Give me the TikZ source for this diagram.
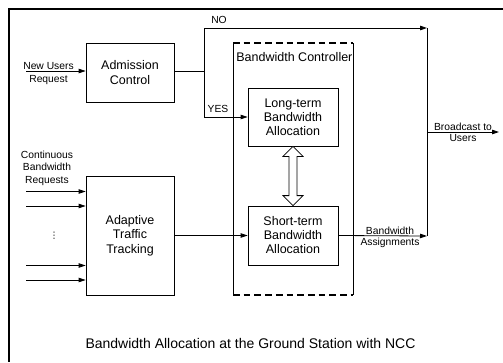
\documentclass[tikz,border=0pt]{standalone}
\usepackage{fontspec}
\setmainfont{Liberation Sans}
\newfontfamily\symfont{DejaVu Sans}
\usetikzlibrary{arrows.meta,calc}
\begin{document}
\begin{tikzpicture}[x=1pt,y=-1pt,
  line width=0.8pt,
  box/.style={draw,line width=0.8pt,align=center,inner sep=0pt,
    font=\fontsize{12.5}{14.5}\selectfont},
  small/.style={align=center,inner sep=0pt,font=\fontsize{10.3}{11.5}\selectfont},
  arr/.style={-{Triangle[length=7pt,width=4.5pt]}},
  hollow/.style={draw,fill=white,line width=0.8pt,line join=miter}]
\useasboundingbox (0,0) rectangle (503,362);
% outer frame (top and left)
\draw[line width=2pt] (503,9) -- (9,9) -- (9,362);
% boxes
\node[box,minimum width=88pt,minimum height=59pt] (adm) at (130,72.5) {Admission\\Control};
\node[box,minimum width=88pt,minimum height=119pt,font=\fontsize{12.5}{14.7}\selectfont] (att) at (130,235.5) {Adaptive\\Traffic\\Tracking};
\node[box,minimum width=90pt,minimum height=58pt,font=\fontsize{12.5}{14}\selectfont] (lt) at (293,117) {Long-term\\Bandwidth\\Allocation};
\node[box,minimum width=90pt,minimum height=59pt,font=\fontsize{12.5}{14}\selectfont] (st) at (293,235.5) {Short-term\\Bandwidth\\Allocation};
% bandwidth controller frame
\coordinate (bcTL) at (233,43);
\coordinate (bcBR) at (353,295);
\draw (bcTL) -- (bcTL|-bcBR);
\draw (bcBR) -- (bcBR|-bcTL);
\draw[line width=2.5pt,dash pattern=on 6.7pt off 4pt] (bcTL) -- (bcTL-|bcBR);
\draw[line width=1.8pt,dash pattern=on 6.7pt off 4pt] (bcTL|-bcBR) -- (bcBR);
\node[anchor=west,inner sep=0pt,font=\fontsize{12.5}{14}\selectfont] (bcl) at (236,57) {Bandwidth Controller};
% junction and branches
\coordinate (j) at (204,71);
\coordinate (jno) at (204,28);
\coordinate (jyes) at (204,117);
\coordinate (rt) at (427,28);
\coordinate (rb) at (427,236);
\coordinate (rm) at (427,132);
\coordinate (out) at (499,132);
\draw (adm.east|-j) -- (j);
\draw[arr] (j) -- (jno) -- (rt);
\draw[arr] (j) -- (jyes) -- (lt.west);
\draw (rt) -- (rb);
\draw[arr] (st.east) -- (rb);
\draw[arr] (rm) -- (out);
\draw[arr] (att.east|-st.west) -- (st.west);
\node[small] (no) at (219,20) {NO};
\node[small] (yes) at (218,109) {YES};
\node[small,font=\fontsize{10.3}{11}\selectfont] (bc) at (463,132) {Broadcast to\\Users};
\node[small,font=\fontsize{10.3}{11}\selectfont] (ba) at (390,237) {Bandwidth\\Assignments};
% left inputs
\node[small,font=\fontsize{10.3}{13.3}\selectfont] (nur) at (48.5,73.3) {New Users\\Request};
\coordinate (nuin) at (26,71);
\draw[arr] (nuin) -- (adm.west|-nuin);
\node[small,font=\fontsize{10.3}{12.6}\selectfont] (cbr) at (47,168) {Continuous\\Bandwidth\\Requests};
\foreach \yy/\nm in {191.5/a,206/b,265.5/c,280/d}{
  \coordinate (in\nm) at (26,\yy);
  \draw[arr] (in\nm) -- (att.west|-in\nm);
}
\node[inner sep=0pt,font=\symfont\fontsize{9}{10}\selectfont] (dots) at (54,235.5) {⋮};
% hollow double arrow
\draw[hollow] (lt.south) -- ++(10,10) -- ++(-6,0) -- ($(st.north)+(4,-10)$) -- ++(6,0)
  -- (st.north) -- ++(-10,-10) -- ++(6,0) -- ($(lt.south)+(-4,10)$) -- ++(-6,0) -- cycle;
% caption
\node[inner sep=0pt,font=\fontsize{14}{16}\selectfont] (cap) at (250.5,343) {Bandwidth Allocation at the Ground Station with NCC};
\end{tikzpicture}
\end{document}
